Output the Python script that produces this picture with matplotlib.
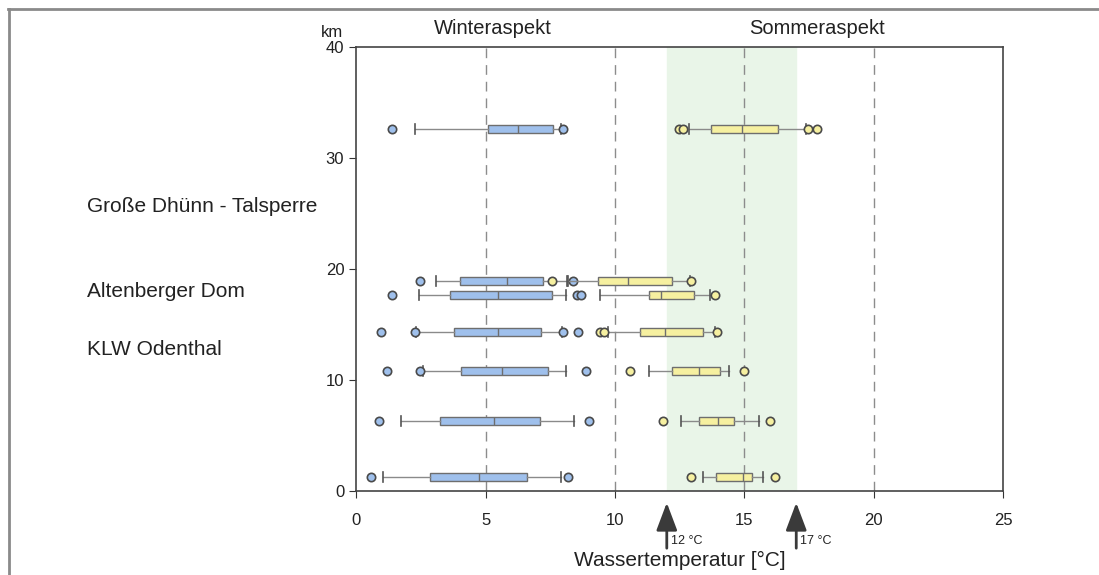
import matplotlib
matplotlib.use("Agg")
import matplotlib.pyplot as plt
from matplotlib.lines import Line2D

plt.rcParams['font.family'] = ['Liberation Sans', 'DejaVu Sans']

# Flusskilometer der Messstellen
km = [32.6, 18.9, 17.7, 14.3, 10.8, 6.3, 1.3]

# Winteraspekt
w_whislo = [2.26, 3.10, 2.42, 2.30, 2.58, 1.73, 1.03]
w_q1 = [5.09, 4.03, 3.64, 3.80, 4.06, 3.23, 2.87]
w_med = [6.25, 5.84, 5.49, 5.49, 5.65, 5.32, 4.74]
w_q3 = [7.61, 7.22, 7.55, 7.16, 7.43, 7.09, 6.59]
w_whishi = [7.90, 8.15, 8.10, 7.95, 8.10, 8.42, 7.91]
w_fliers = [[1.38, 8.0], [2.45, 8.39], [1.38, 8.53, 8.68],
            [0.97, 2.26, 7.98, 8.59], [1.19, 2.48, 8.88], [0.89, 8.98], [0.57, 8.19]]

# Sommeraspekt
s_whislo = [12.84, 8.20, 9.42, 9.72, 11.30, 12.56, 13.40]
s_q1 = [13.72, 9.33, 11.30, 10.98, 12.20, 13.24, 13.91]
s_med = [14.91, 10.49, 11.78, 11.95, 13.24, 13.98, 14.95]
s_q3 = [16.31, 12.20, 13.05, 13.40, 14.04, 14.60, 15.31]
s_whishi = [17.36, 12.88, 13.66, 13.85, 14.41, 15.56, 15.72]
s_fliers = [[12.49, 12.62, 17.47, 17.79], [7.56, 12.95], [13.88],
            [9.43, 9.59, 13.94], [10.56, 14.99], [11.85, 15.98], [12.95, 16.17]]

stations = ["Große Dhünn - Talsperre", "Altenberger Dom", "KLW Odenthal"]
station_km = [25.6, 18.0, 12.8]


def make_stats(lo, q1, med, q3, hi, fl):
    return [dict(whislo=a, q1=b, med=c, q3=d, whishi=e, fliers=f)
            for a, b, c, d, e, f in zip(lo, q1, med, q3, hi, fl)]


fig = plt.figure(figsize=(10.99, 5.75), dpi=100)
ax = fig.add_axes([0.324, 0.146, 0.589, 0.772])

ax.axvspan(12, 17, color='#e9f5e8', zorder=0)
for v in [5, 10, 15, 20]:
    ax.axvline(v, color='#8c8c8c', lw=1, ls=(0, (7, 5)), zorder=1)

edge = '#6e6e6e'
for stats, fc in [(make_stats(w_whislo, w_q1, w_med, w_q3, w_whishi, w_fliers), '#9fc0ec'),
                  (make_stats(s_whislo, s_q1, s_med, s_q3, s_whishi, s_fliers), '#f6f0a0')]:
    ax.bxp(stats, positions=km, widths=0.7, orientation='horizontal',
           patch_artist=True, manage_ticks=False,
           boxprops=dict(facecolor=fc, edgecolor=edge, lw=1),
           medianprops=dict(color=edge, lw=1),
           whiskerprops=dict(color='#8a8a8a', lw=1),
           capprops=dict(color='#555555', lw=1.2),
           capwidths=0.9,
           flierprops=dict(marker='o', markersize=6, markerfacecolor=fc,
                           markeredgecolor='#4a4a4a', markeredgewidth=1.2))

ax.set_xlim(0, 25)
ax.set_ylim(0, 40)
ax.set_xticks([0, 5, 10, 15, 20, 25])
ax.set_yticks([0, 10, 20, 30, 40])
ax.tick_params(labelsize=12, length=5, color='#333333', labelcolor='#222222')
ax.tick_params(axis='x', pad=11)
for s in ax.spines.values():
    s.set_color('#444444')
    s.set_linewidth(1.2)

ax.set_xlabel('Wassertemperatur [°C]', fontsize=15, color='#222222', labelpad=16)
ax.text(-0.02, 1.015, 'km', transform=ax.transAxes, ha='right', va='bottom',
        fontsize=12, color='#222222')
ax.text(5.3, 40.8, 'Winteraspekt', ha='center', va='bottom', fontsize=14.5, color='#222222')
ax.text(17.8, 40.8, 'Sommeraspekt', ha='center', va='bottom', fontsize=14.5, color='#222222')

for name, y in zip(stations, station_km):
    fig.text(87 / 1099, ax.transData.transform((0, y))[1] / fig.bbox.height, name,
             fontsize=15, color='#222222', va='center')

for t in [12, 17]:
    ax.annotate('', xy=(t, -0.02), xytext=(t, -0.135),
                xycoords=('data', 'axes fraction'),
                arrowprops=dict(arrowstyle='-|>,head_length=0.85,head_width=0.32',
                                mutation_scale=20, lw=2, color='#3a3a3a'),
                annotation_clip=False)
    ax.annotate(f'{t} °C', xy=(t, -0.113), xycoords=('data', 'axes fraction'),
                xytext=(3, 0), textcoords='offset points', fontsize=9,
                color='#222222', va='center', annotation_clip=False)

# Rahmen oben und links
fig.add_artist(Line2D([8 / 1099, 1], [1 - 9 / 575, 1 - 9 / 575], color='#8a8a8a', lw=2))
fig.add_artist(Line2D([9 / 1099, 9 / 1099], [0, 1 - 9 / 575], color='#8a8a8a', lw=2))

fig.savefig('out.png', dpi=100)
